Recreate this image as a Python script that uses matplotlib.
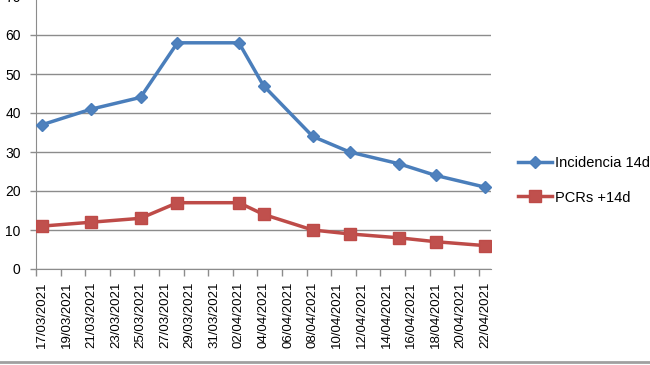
import matplotlib
matplotlib.use("Agg")
import matplotlib.pyplot as plt
import matplotlib.dates as mdates
from matplotlib.lines import Line2D
import numpy as np
import pandas as pd

plt.rcParams['font.family'] = ['Liberation Sans', 'DejaVu Sans']

dates = ["2021-03-17", "2021-03-21", "2021-03-25", "2021-03-28", "2021-04-02",
         "2021-04-04", "2021-04-08", "2021-04-11", "2021-04-15", "2021-04-18",
         "2021-04-22"]
incidencia = [37, 41, 44, 58, 58, 47, 34, 30, 27, 24, 21]
pcrs = [11, 12, 13, 17, 17, 14, 10, 9, 8, 7, 6]
series_labels = ["Incidencia 14d", "PCRs +14d"]
axis_start = "2021-03-17"
axis_end = "2021-04-23"
yticks = [0, 10, 20, 30, 40, 50, 60, 70]

blue = "#4A7EBB"
blue_m = "#4F81BD"
red = "#BE4B48"
red_m = "#C0504D"
grid_c = "#8C8C8C"

fig = plt.figure(figsize=(6.5, 3.65), dpi=100)
ax = fig.add_axes([36/650, 96/365, 455/650, 273/365])

x = pd.to_datetime(dates) + pd.Timedelta(hours=12)
ax.plot(x, incidencia, color=blue, lw=2.5, marker='D', ms=6.5,
        mfc=blue_m, mec=blue, label=series_labels[0], zorder=3)
ax.plot(x, pcrs, color=red, lw=2.5, marker='s', ms=8,
        mfc=red_m, mec=red, label=series_labels[1], zorder=3)

x0 = pd.Timestamp(axis_start)
x1 = pd.Timestamp(axis_end)
ax.set_xlim(x0, x1)
ax.set_ylim(0, 70)

# y axis
ax.set_yticks(yticks)
ax.set_yticklabels([str(v) for v in yticks], fontsize=10)
ax.yaxis.grid(True, color=grid_c, lw=1.0)
ax.set_axisbelow(True)
ax.tick_params(axis='y', length=4, width=1, color=grid_c, pad=7)

# x axis: boundaries ticks (minor) every two days; labels at day centres
bounds = pd.date_range(x0, pd.Timestamp("2021-04-22"), freq="2D")
ax.set_xticks(bounds, minor=True)
ax.set_xticks(bounds + pd.Timedelta(hours=12))
ax.set_xticklabels([d.strftime("%d/%m/%Y") for d in bounds], rotation=90,
                   fontsize=9.5, ha='center', va='top')
ax.tick_params(axis='x', which='major', length=0, pad=9)
ax.tick_params(axis='x', which='minor', length=5, width=1, color=grid_c)

for s in ['top', 'right']:
    ax.spines[s].set_visible(False)
ax.spines['left'].set_color(grid_c)
ax.spines['bottom'].set_color(grid_c)

leg = fig.legend(loc='upper left', bbox_to_anchor=(505/650, 1 - 143/365),
                 frameon=False, fontsize=10.5, handlelength=2.3,
                 labelspacing=1.4, handletextpad=0.2)

# bottom frame line
fig.add_artist(Line2D([0, 1], [3/365, 3/365], color="#A0A0A0", lw=2,
                      transform=fig.transFigure))

fig.savefig("out.png", dpi=100)
